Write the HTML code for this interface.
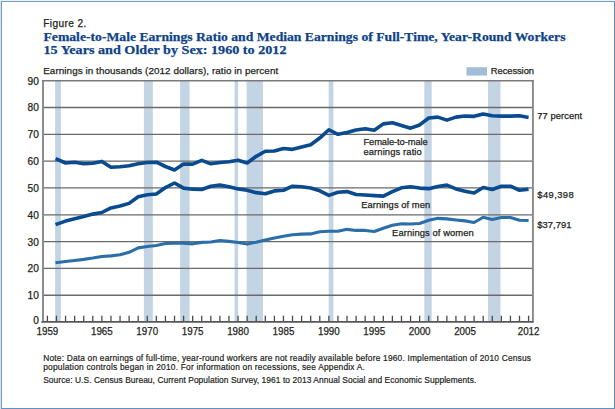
<!DOCTYPE html>
<html><head><meta charset="utf-8">
<style>
html,body{margin:0;padding:0;background:#fff;}
body{width:615px;height:409px;position:relative;overflow:hidden;font-family:"Liberation Sans",sans-serif;}
.frame{position:absolute;left:1px;top:1px;width:614px;height:408px;box-sizing:border-box;border:1px solid #6290c0;border-top-color:#729cc7;border-left-color:#729cc7;box-shadow:-1px 0 0 #d6e1ed, 0 -1px 0 #eef2f7;}
</style></head><body>
<div class="frame"></div>
<svg width="615" height="409" viewBox="0 0 615 409" style="position:absolute;left:0;top:0">
<rect x="55.1" y="80.8" width="5.80" height="241.1" fill="#c3d5e5"/>
<rect x="143.9" y="80.8" width="8.90" height="241.1" fill="#c3d5e5"/>
<rect x="180.1" y="80.8" width="9.50" height="241.1" fill="#c3d5e5"/>
<rect x="234.5" y="80.8" width="3.70" height="241.1" fill="#c3d5e5"/>
<rect x="246.6" y="80.8" width="16.40" height="241.1" fill="#c3d5e5"/>
<rect x="328.7" y="80.8" width="4.70" height="241.1" fill="#c3d5e5"/>
<rect x="424.3" y="80.8" width="7.40" height="241.1" fill="#c3d5e5"/>
<rect x="488.0" y="80.8" width="12.50" height="241.1" fill="#c3d5e5"/>
<line x1="43" x2="533" y1="295.24" y2="295.24" stroke="#6a6a6a" stroke-width="1.3"/>
<line x1="43" x2="533" y1="268.42" y2="268.42" stroke="#6a6a6a" stroke-width="1.3"/>
<line x1="43" x2="533" y1="241.60" y2="241.60" stroke="#6a6a6a" stroke-width="1.3"/>
<line x1="43" x2="533" y1="214.78" y2="214.78" stroke="#6a6a6a" stroke-width="1.3"/>
<line x1="43" x2="533" y1="187.96" y2="187.96" stroke="#6a6a6a" stroke-width="1.3"/>
<line x1="43" x2="533" y1="161.14" y2="161.14" stroke="#6a6a6a" stroke-width="1.3"/>
<line x1="43" x2="533" y1="134.32" y2="134.32" stroke="#6a6a6a" stroke-width="1.3"/>
<line x1="43" x2="533" y1="107.50" y2="107.50" stroke="#6a6a6a" stroke-width="1.3"/>
<line x1="47.40" x2="47.40" y1="315.7" y2="321.5" stroke="#4a4a4a" stroke-width="1.3"/>
<line x1="56.48" x2="56.48" y1="315.7" y2="321.5" stroke="#4a4a4a" stroke-width="1.3"/>
<line x1="65.56" x2="65.56" y1="315.7" y2="321.5" stroke="#4a4a4a" stroke-width="1.3"/>
<line x1="74.64" x2="74.64" y1="315.7" y2="321.5" stroke="#4a4a4a" stroke-width="1.3"/>
<line x1="83.72" x2="83.72" y1="315.7" y2="321.5" stroke="#4a4a4a" stroke-width="1.3"/>
<line x1="92.80" x2="92.80" y1="315.7" y2="321.5" stroke="#4a4a4a" stroke-width="1.3"/>
<line x1="101.87" x2="101.87" y1="315.7" y2="321.5" stroke="#4a4a4a" stroke-width="1.3"/>
<line x1="110.95" x2="110.95" y1="315.7" y2="321.5" stroke="#4a4a4a" stroke-width="1.3"/>
<line x1="120.03" x2="120.03" y1="315.7" y2="321.5" stroke="#4a4a4a" stroke-width="1.3"/>
<line x1="129.11" x2="129.11" y1="315.7" y2="321.5" stroke="#4a4a4a" stroke-width="1.3"/>
<line x1="138.19" x2="138.19" y1="315.7" y2="321.5" stroke="#4a4a4a" stroke-width="1.3"/>
<line x1="147.27" x2="147.27" y1="315.7" y2="321.5" stroke="#4a4a4a" stroke-width="1.3"/>
<line x1="156.35" x2="156.35" y1="315.7" y2="321.5" stroke="#4a4a4a" stroke-width="1.3"/>
<line x1="165.43" x2="165.43" y1="315.7" y2="321.5" stroke="#4a4a4a" stroke-width="1.3"/>
<line x1="174.51" x2="174.51" y1="315.7" y2="321.5" stroke="#4a4a4a" stroke-width="1.3"/>
<line x1="183.59" x2="183.59" y1="315.7" y2="321.5" stroke="#4a4a4a" stroke-width="1.3"/>
<line x1="192.66" x2="192.66" y1="315.7" y2="321.5" stroke="#4a4a4a" stroke-width="1.3"/>
<line x1="201.74" x2="201.74" y1="315.7" y2="321.5" stroke="#4a4a4a" stroke-width="1.3"/>
<line x1="210.82" x2="210.82" y1="315.7" y2="321.5" stroke="#4a4a4a" stroke-width="1.3"/>
<line x1="219.90" x2="219.90" y1="315.7" y2="321.5" stroke="#4a4a4a" stroke-width="1.3"/>
<line x1="228.98" x2="228.98" y1="315.7" y2="321.5" stroke="#4a4a4a" stroke-width="1.3"/>
<line x1="238.06" x2="238.06" y1="315.7" y2="321.5" stroke="#4a4a4a" stroke-width="1.3"/>
<line x1="247.14" x2="247.14" y1="315.7" y2="321.5" stroke="#4a4a4a" stroke-width="1.3"/>
<line x1="256.22" x2="256.22" y1="315.7" y2="321.5" stroke="#4a4a4a" stroke-width="1.3"/>
<line x1="265.30" x2="265.30" y1="315.7" y2="321.5" stroke="#4a4a4a" stroke-width="1.3"/>
<line x1="274.38" x2="274.38" y1="315.7" y2="321.5" stroke="#4a4a4a" stroke-width="1.3"/>
<line x1="283.45" x2="283.45" y1="315.7" y2="321.5" stroke="#4a4a4a" stroke-width="1.3"/>
<line x1="292.53" x2="292.53" y1="315.7" y2="321.5" stroke="#4a4a4a" stroke-width="1.3"/>
<line x1="301.61" x2="301.61" y1="315.7" y2="321.5" stroke="#4a4a4a" stroke-width="1.3"/>
<line x1="310.69" x2="310.69" y1="315.7" y2="321.5" stroke="#4a4a4a" stroke-width="1.3"/>
<line x1="319.77" x2="319.77" y1="315.7" y2="321.5" stroke="#4a4a4a" stroke-width="1.3"/>
<line x1="328.85" x2="328.85" y1="315.7" y2="321.5" stroke="#4a4a4a" stroke-width="1.3"/>
<line x1="337.93" x2="337.93" y1="315.7" y2="321.5" stroke="#4a4a4a" stroke-width="1.3"/>
<line x1="347.01" x2="347.01" y1="315.7" y2="321.5" stroke="#4a4a4a" stroke-width="1.3"/>
<line x1="356.09" x2="356.09" y1="315.7" y2="321.5" stroke="#4a4a4a" stroke-width="1.3"/>
<line x1="365.17" x2="365.17" y1="315.7" y2="321.5" stroke="#4a4a4a" stroke-width="1.3"/>
<line x1="374.24" x2="374.24" y1="315.7" y2="321.5" stroke="#4a4a4a" stroke-width="1.3"/>
<line x1="383.32" x2="383.32" y1="315.7" y2="321.5" stroke="#4a4a4a" stroke-width="1.3"/>
<line x1="392.40" x2="392.40" y1="315.7" y2="321.5" stroke="#4a4a4a" stroke-width="1.3"/>
<line x1="401.48" x2="401.48" y1="315.7" y2="321.5" stroke="#4a4a4a" stroke-width="1.3"/>
<line x1="410.56" x2="410.56" y1="315.7" y2="321.5" stroke="#4a4a4a" stroke-width="1.3"/>
<line x1="419.64" x2="419.64" y1="315.7" y2="321.5" stroke="#4a4a4a" stroke-width="1.3"/>
<line x1="428.72" x2="428.72" y1="315.7" y2="321.5" stroke="#4a4a4a" stroke-width="1.3"/>
<line x1="437.80" x2="437.80" y1="315.7" y2="321.5" stroke="#4a4a4a" stroke-width="1.3"/>
<line x1="446.88" x2="446.88" y1="315.7" y2="321.5" stroke="#4a4a4a" stroke-width="1.3"/>
<line x1="455.95" x2="455.95" y1="315.7" y2="321.5" stroke="#4a4a4a" stroke-width="1.3"/>
<line x1="465.03" x2="465.03" y1="315.7" y2="321.5" stroke="#4a4a4a" stroke-width="1.3"/>
<line x1="474.11" x2="474.11" y1="315.7" y2="321.5" stroke="#4a4a4a" stroke-width="1.3"/>
<line x1="483.19" x2="483.19" y1="315.7" y2="321.5" stroke="#4a4a4a" stroke-width="1.3"/>
<line x1="492.27" x2="492.27" y1="315.7" y2="321.5" stroke="#4a4a4a" stroke-width="1.3"/>
<line x1="501.35" x2="501.35" y1="315.7" y2="321.5" stroke="#4a4a4a" stroke-width="1.3"/>
<line x1="510.43" x2="510.43" y1="315.7" y2="321.5" stroke="#4a4a4a" stroke-width="1.3"/>
<line x1="519.51" x2="519.51" y1="315.7" y2="321.5" stroke="#4a4a4a" stroke-width="1.3"/>
<line x1="528.59" x2="528.59" y1="315.7" y2="321.5" stroke="#4a4a4a" stroke-width="1.3"/>
<path d="M43,321.9 V80.8" fill="none" stroke="#878787" stroke-width="1.9"/><path d="M532.9,321.9 V80.8" fill="none" stroke="#878787" stroke-width="1.9"/><path d="M42.1,80.8 H533.8" fill="none" stroke="#7a7a7a" stroke-width="1.5"/>
<path d="M42.1,321.9 H532.9" fill="none" stroke="#575757" stroke-width="1.8" stroke-linecap="round"/>
<polyline points="55.49,262.72 65.56,261.53 74.64,260.45 83.72,259.38 92.80,258.04 101.87,256.43 110.95,255.90 120.03,254.82 129.11,252.27 138.19,247.85 147.27,246.51 156.35,245.44 165.43,243.56 174.51,243.29 183.59,243.29 192.66,243.83 201.74,242.35 210.82,241.95 219.90,240.61 228.98,241.41 238.06,242.49 247.14,244.09 256.22,242.22 265.30,239.94 274.38,237.93 283.45,236.32 292.53,234.71 301.61,234.17 310.69,233.90 319.77,231.76 328.85,231.22 337.93,231.22 347.01,229.34 356.09,230.42 365.17,230.42 374.24,231.49 383.32,228.27 392.40,225.32 401.48,223.71 410.56,223.98 419.64,223.44 428.72,220.22 437.80,218.35 446.88,218.88 455.95,219.96 465.03,220.89 474.11,222.50 483.19,217.27 492.27,219.42 501.35,217.54 510.43,217.54 519.51,220.22 528.59,220.49" fill="none" stroke="#2c6ea9" stroke-width="3.1" stroke-linejoin="round"/>
<polyline points="55.54,224.64 65.56,221.08 74.64,218.67 83.72,216.52 92.80,214.11 101.87,212.50 110.95,207.94 120.03,206.06 129.11,203.38 138.19,196.68 147.27,194.80 156.35,193.99 165.43,187.56 174.51,183.00 183.59,188.09 192.66,189.17 201.74,189.44 210.82,186.22 219.90,185.14 228.98,186.75 238.06,188.90 247.14,190.24 256.22,192.65 265.30,193.73 274.38,190.91 283.45,190.24 292.53,186.22 301.61,186.75 310.69,188.09 319.77,190.78 328.85,195.34 337.93,192.25 347.01,191.58 356.09,194.53 365.17,195.07 374.24,195.60 383.32,196.14 392.40,191.58 401.48,187.83 410.56,186.75 419.64,188.09 428.72,188.63 437.80,186.48 446.88,185.14 455.95,188.90 465.03,191.18 474.11,193.06 483.19,187.56 492.27,189.44 501.35,186.22 510.43,186.22 519.51,190.24 528.59,189.17" fill="none" stroke="#0a4a8f" stroke-width="3.6" stroke-linejoin="round"/>
<polyline points="55.56,158.59 65.56,163.02 74.64,162.21 83.72,163.82 92.80,163.29 101.87,161.41 110.95,167.31 120.03,166.77 129.11,165.70 138.19,163.82 147.27,162.48 156.35,162.21 165.43,166.50 174.51,169.99 183.59,164.09 192.66,164.09 201.74,160.34 210.82,163.82 219.90,162.48 228.98,161.68 238.06,160.34 247.14,163.02 256.22,156.31 265.30,151.22 274.38,150.95 283.45,148.53 292.53,149.34 301.61,146.93 310.69,144.78 319.77,138.07 328.85,129.76 337.93,134.32 347.01,132.44 356.09,130.03 365.17,128.69 374.24,130.30 383.32,123.86 392.40,122.79 401.48,125.47 410.56,128.15 419.64,124.93 428.72,117.96 437.80,117.16 446.88,120.11 455.95,117.16 465.03,116.08 474.11,116.35 483.19,113.94 492.27,115.81 501.35,116.08 510.43,116.08 519.51,115.81 528.59,117.42" fill="none" stroke="#0a4a8f" stroke-width="3.6" stroke-linejoin="round"/>
<rect x="466.5" y="67.2" width="20.5" height="8.4" fill="#a2bdd6"/>
<text x="43.20" y="27.30" font-family="Liberation Sans" font-size="10.1" font-weight="normal" fill="#231f20" stroke="#231f20" stroke-width="0.25" textLength="43.10" lengthAdjust="spacing">Figure 2.</text>
<text x="43.50" y="40.80" font-family="Liberation Serif" font-size="12.8" font-weight="bold" fill="#0f4388" stroke="#0f4388" stroke-width="0.25" textLength="522.00" lengthAdjust="spacingAndGlyphs">Female-to-Male Earnings Ratio and Median Earnings of Full-Time, Year-Round Workers</text>
<text x="43.50" y="53.70" font-family="Liberation Serif" font-size="12.8" font-weight="bold" fill="#0f4388" stroke="#0f4388" stroke-width="0.25" textLength="243.00" lengthAdjust="spacingAndGlyphs">15 Years and Older by Sex: 1960 to 2012</text>
<text x="43.20" y="73.90" font-family="Liberation Sans" font-size="9.9" font-weight="normal" fill="#231f20" stroke="#231f20" stroke-width="0.25" textLength="235.00" lengthAdjust="spacing">Earnings in thousands (2012 dollars), ratio in percent</text>
<text x="490.80" y="74.10" font-family="Liberation Sans" font-size="9.4" font-weight="normal" fill="#231f20" stroke="#231f20" stroke-width="0.25" textLength="43.20" lengthAdjust="spacing">Recession</text>
<text x="537.30" y="118.80" font-family="Liberation Sans" font-size="9.4" font-weight="normal" fill="#231f20" stroke="#231f20" stroke-width="0.25" textLength="44.90" lengthAdjust="spacing">77 percent</text>
<text x="537.30" y="198.00" font-family="Liberation Sans" font-size="9.4" font-weight="normal" fill="#231f20" stroke="#231f20" stroke-width="0.25" textLength="36.30" lengthAdjust="spacing">$49,398</text>
<text x="537.30" y="227.90" font-family="Liberation Sans" font-size="9.4" font-weight="normal" fill="#231f20" stroke="#231f20" stroke-width="0.25" textLength="34.20" lengthAdjust="spacing">$37,791</text>
<text x="363.40" y="144.70" font-family="Liberation Sans" font-size="9.4" font-weight="normal" fill="#231f20" stroke="#231f20" stroke-width="0.25" textLength="64.30" lengthAdjust="spacing">Female-to-male</text>
<text x="363.40" y="155.10" font-family="Liberation Sans" font-size="9.4" font-weight="normal" fill="#231f20" stroke="#231f20" stroke-width="0.25" textLength="58.40" lengthAdjust="spacing">earnings ratio</text>
<text x="361.20" y="208.00" font-family="Liberation Sans" font-size="9.4" font-weight="normal" fill="#231f20" stroke="#231f20" stroke-width="0.25" textLength="69.00" lengthAdjust="spacing">Earnings of men</text>
<text x="392.10" y="236.40" font-family="Liberation Sans" font-size="9.4" font-weight="normal" fill="#231f20" stroke="#231f20" stroke-width="0.25" textLength="81.60" lengthAdjust="spacing">Earnings of women</text>
<text x="43.20" y="360.70" font-family="Liberation Sans" font-size="8.4" font-weight="normal" fill="#231f20" stroke="#231f20" stroke-width="0.2" textLength="487.80" lengthAdjust="spacing">Note: Data on earnings of full-time, year-round workers are not readily available before 1960. Implementation of 2010 Census</text>
<text x="43.20" y="369.60" font-family="Liberation Sans" font-size="8.4" font-weight="normal" fill="#231f20" stroke="#231f20" stroke-width="0.2" textLength="321.70" lengthAdjust="spacing">population controls began in 2010. For information on recessions, see Appendix A.</text>
<text x="43.20" y="382.60" font-family="Liberation Sans" font-size="8.4" font-weight="normal" fill="#231f20" stroke="#231f20" stroke-width="0.2" textLength="433.10" lengthAdjust="spacing">Source: U.S. Census Bureau, Current Population Survey, 1961 to 2013 Annual Social and Economic Supplements.</text>
<text x="36.50" y="335.10" font-family="Liberation Sans" font-size="10" font-weight="normal" fill="#231f20" stroke="#231f20" stroke-width="0.25" textLength="21.80" lengthAdjust="spacingAndGlyphs">1959</text>
<text x="90.97" y="335.10" font-family="Liberation Sans" font-size="10" font-weight="normal" fill="#231f20" stroke="#231f20" stroke-width="0.25" textLength="21.80" lengthAdjust="spacingAndGlyphs">1965</text>
<text x="136.37" y="335.10" font-family="Liberation Sans" font-size="10" font-weight="normal" fill="#231f20" stroke="#231f20" stroke-width="0.25" textLength="21.80" lengthAdjust="spacingAndGlyphs">1970</text>
<text x="181.76" y="335.10" font-family="Liberation Sans" font-size="10" font-weight="normal" fill="#231f20" stroke="#231f20" stroke-width="0.25" textLength="21.80" lengthAdjust="spacingAndGlyphs">1975</text>
<text x="227.16" y="335.10" font-family="Liberation Sans" font-size="10" font-weight="normal" fill="#231f20" stroke="#231f20" stroke-width="0.25" textLength="21.80" lengthAdjust="spacingAndGlyphs">1980</text>
<text x="272.55" y="335.10" font-family="Liberation Sans" font-size="10" font-weight="normal" fill="#231f20" stroke="#231f20" stroke-width="0.25" textLength="21.80" lengthAdjust="spacingAndGlyphs">1985</text>
<text x="317.95" y="335.10" font-family="Liberation Sans" font-size="10" font-weight="normal" fill="#231f20" stroke="#231f20" stroke-width="0.25" textLength="21.80" lengthAdjust="spacingAndGlyphs">1990</text>
<text x="363.34" y="335.10" font-family="Liberation Sans" font-size="10" font-weight="normal" fill="#231f20" stroke="#231f20" stroke-width="0.25" textLength="21.80" lengthAdjust="spacingAndGlyphs">1995</text>
<text x="408.74" y="335.10" font-family="Liberation Sans" font-size="10" font-weight="normal" fill="#231f20" stroke="#231f20" stroke-width="0.25" textLength="21.80" lengthAdjust="spacingAndGlyphs">2000</text>
<text x="454.13" y="335.10" font-family="Liberation Sans" font-size="10" font-weight="normal" fill="#231f20" stroke="#231f20" stroke-width="0.25" textLength="21.80" lengthAdjust="spacingAndGlyphs">2005</text>
<text x="517.69" y="335.10" font-family="Liberation Sans" font-size="10" font-weight="normal" fill="#231f20" stroke="#231f20" stroke-width="0.25" textLength="21.80" lengthAdjust="spacingAndGlyphs">2012</text>
<text x="33.25" y="324.20" font-family="Liberation Sans" font-size="10.4" font-weight="normal" fill="#231f20" stroke="#231f20" stroke-width="0.25" textLength="5.65" lengthAdjust="spacingAndGlyphs">0</text>
<text x="27.60" y="299.14" font-family="Liberation Sans" font-size="10.4" font-weight="normal" fill="#231f20" stroke="#231f20" stroke-width="0.25" textLength="11.30" lengthAdjust="spacingAndGlyphs">10</text>
<text x="27.60" y="272.32" font-family="Liberation Sans" font-size="10.4" font-weight="normal" fill="#231f20" stroke="#231f20" stroke-width="0.25" textLength="11.30" lengthAdjust="spacingAndGlyphs">20</text>
<text x="27.60" y="245.50" font-family="Liberation Sans" font-size="10.4" font-weight="normal" fill="#231f20" stroke="#231f20" stroke-width="0.25" textLength="11.30" lengthAdjust="spacingAndGlyphs">30</text>
<text x="27.60" y="218.68" font-family="Liberation Sans" font-size="10.4" font-weight="normal" fill="#231f20" stroke="#231f20" stroke-width="0.25" textLength="11.30" lengthAdjust="spacingAndGlyphs">40</text>
<text x="27.60" y="191.86" font-family="Liberation Sans" font-size="10.4" font-weight="normal" fill="#231f20" stroke="#231f20" stroke-width="0.25" textLength="11.30" lengthAdjust="spacingAndGlyphs">50</text>
<text x="27.60" y="165.04" font-family="Liberation Sans" font-size="10.4" font-weight="normal" fill="#231f20" stroke="#231f20" stroke-width="0.25" textLength="11.30" lengthAdjust="spacingAndGlyphs">60</text>
<text x="27.60" y="138.22" font-family="Liberation Sans" font-size="10.4" font-weight="normal" fill="#231f20" stroke="#231f20" stroke-width="0.25" textLength="11.30" lengthAdjust="spacingAndGlyphs">70</text>
<text x="27.60" y="111.40" font-family="Liberation Sans" font-size="10.4" font-weight="normal" fill="#231f20" stroke="#231f20" stroke-width="0.25" textLength="11.30" lengthAdjust="spacingAndGlyphs">80</text>
<text x="27.60" y="84.58" font-family="Liberation Sans" font-size="10.4" font-weight="normal" fill="#231f20" stroke="#231f20" stroke-width="0.25" textLength="11.30" lengthAdjust="spacingAndGlyphs">90</text>
</svg>
</body></html>
